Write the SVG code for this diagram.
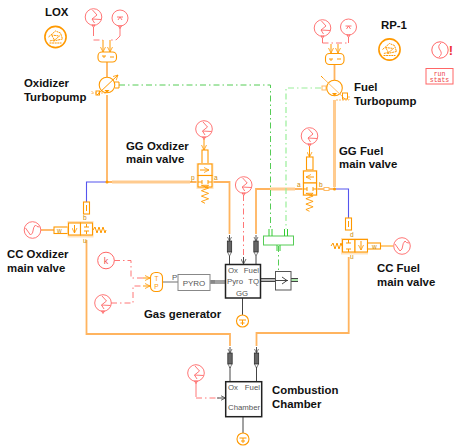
<svg xmlns="http://www.w3.org/2000/svg" width="455" height="448" viewBox="0 0 455 448">
<style>
text{font-family:"Liberation Sans",Arial,sans-serif}
.t{font-size:11.400px;font-weight:bold;fill:#111}
.s{font-size:7.800px;fill:#555}
.o{fill:none;stroke:#f90;stroke-width:1}
.ow{fill:#fff;stroke:#f90;stroke-width:1.100}
.th{fill:none;stroke:#ffcb8f;stroke-width:3}
.tm{fill:none;stroke:#ffb45f;stroke-width:1.800}
.r{fill:none;stroke:#f66;stroke-width:.9}
.rd{fill:none;stroke:#f66;stroke-width:.9;stroke-dasharray:6 3 1.500 3}
.g{fill:none;stroke:#5c5;stroke-width:1;stroke-dasharray:6 3 1.500 3}
.gl{fill:none;stroke:#9e9;stroke-width:1.200;stroke-dasharray:6 3 1.500 3}
.b{fill:none;stroke:#55e;stroke-width:1.100}
.k{fill:none;stroke:#444;stroke-width:1}
.gr{fill:none;stroke:#999;stroke-width:1.400}
.lab{font-size:6.500px;fill:#c80}
</style>
<defs>
<marker id="ao" markerWidth="6" markerHeight="6" refX="5" refY="3" orient="auto"><path d="M0 0.500L5 3L0 5.500" fill="none" stroke="#f90" stroke-width="0.800"/></marker>
<marker id="ak" markerWidth="6" markerHeight="6" refX="5" refY="3" orient="auto"><path d="M0 0.500L5 3L0 5.500" fill="none" stroke="#444" stroke-width="0.800"/></marker>
<g id="sig"><circle r="8.300" fill="#fff" stroke="#f66" stroke-width=".9"/><path d="M-1 -7L3.500 -2L-1.500 2L7.500 2.500M-1.500 2L1 6" class="r" stroke-width="0.800"/><path d="M-1.500 8L1.500 8L0 10.500Z" class="r"/></g>
<g id="sig2"><circle r="8" fill="#fff" stroke="#f66" stroke-width=".9"/><path d="M-3 -1H3M-2 2L0 -1L2 2" class="r" stroke-width="0.700"/><path d="M-1.500 8L1.500 8L0 10.500Z" class="r"/></g>
<g id="sin"><circle r="8.300" fill="#fff" stroke="#f66" stroke-width=".9"/><path d="M-7 -2L-2 5L0 3Q1 -4 3 -5Q4 -3 7 -3" class="r"/></g>
<g id="inj"><path d="M0 0V6" stroke="#555" stroke-width="1"/><rect x="-2.200" y="6" width="4.400" height="11" fill="#666" stroke="#222" stroke-width="0.700"/><path d="M-2 17L0 21L2 17M-2 2L0 6L2 2" fill="none" stroke="#444" stroke-width="0.700"/></g>
<g id="tank"><circle r="10.600" fill="#fff" stroke="#f90" stroke-width="1.600"/><path d="M-7 0L0 -6L5 -4L7 2L-2 4L4 -1L-4 -2L-1 3L-6 4M-6 6H6" fill="none" stroke="#f90" stroke-width="1" stroke-dasharray="2 0.600"/></g>
<g id="port"><circle r="6" fill="#fff" stroke="#f90" stroke-width="1.100"/><path d="M-3.500 -1H3.500M0 -1V4M-2 2H2" class="o" stroke-width="0.700"/></g>
<g id="sp"><path d="M0 0l4 -3l-8 -0l8 3l-8 3l8 3l-8 3l8 3l-8 3l4 2" class="o" transform="scale(.9)"/></g>
</defs>

<g id="connectors">
<path class="tm" d="M107 95V182"/>
<path class="th" d="M112 182H190"/>
<path class="tm" d="M107 182H112M190 182H198"/>
<path class="tm" d="M107 62V77" stroke-width="1.200"/>
<path class="b" d="M107 182H86.500V202"/>
<path class="tm" d="M212 182H229.500V234"/>
<path class="th" d="M295 189H270"/>
<path class="tm" d="M295 189H304M270 189H256V234"/>
<path class="th" d="M334.500 100V187"/>
<path class="tm" d="M334.500 65V80" stroke-width="1.200"/>
<path class="tm" d="M316 189H335" stroke-width="1.200"/>
<path class="b" d="M335 189H348.500V218"/>
<path class="tm" d="M86.500 240V334H230V346"/>
<path class="tm" d="M348.700 257V333H256.500V346"/>
<path class="g" d="M119 85H270.500V229"/>
<path class="gl" d="M321 88H286V229"/>
<path class="g" d="M278.500 246V272"/>
<path class="r" d="M93.500 27V36M120 28V36"/>
<path class="rd" d="M93.500 40H103M120 36L116 40H110"/>
<path class="o" d="M103 40V52" marker-end="url(#ao)"/>
<path class="o" d="M110 40V52" marker-end="url(#ao)"/>
<path class="r" d="M322.500 38V43M348.500 37V43"/>
<path class="rd" d="M322.500 43H348.500"/>
<path class="o" d="M331 44V53" marker-end="url(#ao)"/>
<path class="o" d="M338 44V53" marker-end="url(#ao)"/>
<path class="o" d="M204 139V150" marker-end="url(#ao)"/>
<path class="o" d="M309.500 146V157" marker-end="url(#ao)"/>
<path class="rd" d="M243.500 195V258"/>
<path class="k" d="M243.500 257V264" marker-end="url(#ak)"/>
<path class="tm" d="M41 230H54" stroke-width="1"/>
<path class="o" d="M381 246H393"/>
<path class="rd" d="M114 260.500H131V278H144"/>
<path class="o" d="M143 278H150" marker-end="url(#ao)"/>
<path class="o" d="M143 286H150" marker-end="url(#ao)"/>
<path class="rd" d="M111 303H133V286H143"/>
<path class="r" d="M196 383V397"/>
<path class="rd" d="M196 398H219"/>
<path class="k" d="M217 398H225.500" marker-end="url(#ak)"/>
<path class="k" d="M229.500 256V264M256 256V264" stroke="#888"/>
<path class="k" d="M230 367V382M256.500 367V382"/>
<path class="gr" d="M162 282H178"/>
<path class="k" d="M210 281H225M210 283H225"/>
<path class="k" d="M261 278.500H275M261 281.500H275M291 278.500H298M291 281.500H298" stroke-width="1.200"/>
<path class="gr" d="M261 280H275"/>
<path class="gr" d="M291 280H298" style="stroke:#8d8"/>
<path class="k" d="M242.500 298V315M243 417V433" stroke="#666"/>
</g>

<g id="lox"><text class="t" x="45" y="16">LOX</text><use href="#tank" x="55.500" y="37"/></g>
<g id="lox-sig1"><use href="#sig" x="93.500" y="17"/></g>
<g id="lox-sig2"><use href="#sig2" x="120" y="18"/></g>
<g id="ox-mux"><rect x="98" y="52" width="18.500" height="10" rx="4" class="ow"/><path d="M102 56H106M104 56V58M110 57H114" class="o" stroke-width="0.700"/></g>
<g id="ox-pump">
<path d="M92 93H107" stroke="#fb6" stroke-width="1" stroke-dasharray="2 1" fill="none"/><path d="M92 94V90" stroke="#fb6" stroke-dasharray="1 1" fill="none"/>
<rect x="96" y="91" width="3.500" height="4" class="o"/>
<circle cx="107" cy="85" r="7.800" class="ow"/>
<path d="M97 95L118 75" class="o" stroke-width="0.800" marker-end="url(#ao)"/>
<path d="M104.500 90H109.500L107 93Z" fill="#f90"/>
<path d="M115 82H119V88H115" class="o"/>
<text class="t" x="24" y="87">Oxidizer</text><text class="t" x="24" y="101">Turbopump</text>
</g>
<g id="rp1"><text class="t" x="381" y="29">RP-1</text><use href="#tank" x="389.500" y="49.500"/></g>
<g id="fuel-sig1"><use href="#sig" x="322.500" y="28"/></g>
<g id="fuel-sig2"><use href="#sig2" x="348.500" y="27"/></g>
<g id="fuel-mux"><rect x="325.500" y="53.500" width="18.500" height="11" rx="4" class="ow"/><path d="M329 59H333M331 59V61M337 59H341" class="o" stroke-width="0.700"/></g>
<g id="fuel-pump">
<rect x="322" y="86" width="4" height="4" class="o" style="stroke:#fb6"/>
<circle cx="334.500" cy="88" r="7.800" class="ow"/>
<path d="M323 78L345 99" class="o" stroke-width="0.800" style="stroke:#fb6"/>
<path d="M323 78L321 76" class="o"/>
<path d="M332 93H337L334.500 96Z" fill="#f90"/>
<path d="M336 100H349V96" fill="none" stroke="#fb6" stroke-dasharray="2 1"/><rect x="342.500" y="93" width="5" height="6" class="o"/>
<text class="t" x="354" y="91">Fuel</text><text class="t" x="354" y="105">Turbopump</text>
</g>
<g id="run-stats">
<circle cx="440" cy="50" r="8.200" fill="#fff" stroke="#f66"/><path d="M441 43Q437 46 440 50Q443 54 439 57" class="r"/>
<text x="451" y="55" font-size="13" font-weight="bold" fill="#e33" text-anchor="middle">!</text>
<rect x="426" y="68.500" width="27" height="15.500" fill="#fff" stroke="#f66"/>
<text x="439.500" y="75.500" font-size="6.500" fill="#e44" text-anchor="middle" style="font-family:'Liberation Mono',monospace">run</text>
<text x="439.500" y="82" font-size="6.500" fill="#e44" text-anchor="middle" style="font-family:'Liberation Mono',monospace">stats</text>
</g>

<g id="gg-ox-valve">
<use href="#sig" x="204" y="129"/>
<text class="t" x="126" y="150">GG Oxdizer</text><text class="t" x="126" y="163">main valve</text>
<rect x="202" y="150" width="6" height="14" class="ow"/><rect x="196.500" y="163" width="17" height="26" fill="#ffe3bf"/>
<rect x="198" y="164" width="14" height="11.500" class="ow"/><rect x="198" y="175.500" width="14" height="11.500" class="ow"/>
<path d="M200 170H209" class="o" marker-end="url(#ao)"/><path d="M198 182H202M202 180V184M212 182H208M208 180V184" class="o"/>
<use href="#sp" x="205" y="188"/>
<text class="lab" x="191" y="180">p</text><text class="lab" x="214" y="180">a</text>
</g>
<g id="cc-ox-valve">
<use href="#sin" x="32.500" y="230"/>
<rect x="83.500" y="202" width="6" height="12" class="ow"/><path d="M86.500 205V211" class="o"/>
<text class="lab" x="83" y="220">b</text>
<rect x="54" y="227" width="14" height="6.500" class="ow"/><text class="lab" x="57" y="233">w</text>
<rect x="67.500" y="221" width="26" height="16.500" fill="#ffe3bf"/>
<rect x="68.500" y="223" width="12" height="12" class="ow"/><rect x="80.500" y="223" width="12" height="12" class="ow"/>
<path d="M74.500 225V233" class="o" marker-end="url(#ao)"/><path d="M86.500 224V227M84 227H89M86.500 234V231M84 231H89" class="o"/>
<path d="M93 230l2 -3l2 6l2 -6l2 6l2 -6l2 6l1 -3" class="o"/>
<text class="lab" x="83" y="243">u</text>
<text class="t" x="7" y="258">CC Oxdizer</text><text class="t" x="7" y="272">main valve</text>
</g>
<g id="gg-fuel-valve">
<use href="#sig" x="309.500" y="136"/>
<rect x="306.500" y="157" width="6.500" height="13" class="ow"/>
<rect x="302.500" y="170" width="15" height="26" fill="#ffe3bf"/>
<rect x="303.500" y="171" width="13" height="12" class="ow"/><rect x="303.500" y="183" width="13" height="12" class="ow"/>
<path d="M314 177H306" class="o" marker-end="url(#ao)"/><path d="M304 189H307M307 187V191M316 189H313M313 187V191" class="o"/>
<use href="#sp" x="309.500" y="196"/>
<text class="lab" x="297" y="187">a</text><text class="lab" x="319" y="187">b</text>
<rect x="324" y="187.500" width="5" height="3" fill="#fff" stroke="#fb6"/>
<circle cx="334.500" cy="189" r="1.500" fill="#f90"/>
<text class="t" x="339" y="155">GG Fuel</text><text class="t" x="339" y="168">main valve</text>
</g>
<circle id="ox-junction" cx="107" cy="182" r="1.500" fill="#f90"/>
<g id="cc-fuel-valve">
<rect x="345.500" y="218" width="6" height="12" class="ow"/><path d="M348.500 221V227" class="o"/>
<text class="lab" x="350" y="237">d</text>
<rect x="341" y="238" width="27" height="16.500" fill="#ffe3bf"/>
<rect x="342.500" y="239.500" width="12.500" height="12.500" class="ow"/><rect x="355" y="239.500" width="12.500" height="12.500" class="ow"/>
<path d="M361 241V250" class="o" marker-end="url(#ao)"/><path d="M348.500 240V243M346 243H351M348.500 252V249M346 249H351" class="o"/>
<path d="M331 246l2 -3l2 6l2 -6l2 6l2 -6l1 3" class="o"/>
<rect x="367.500" y="243" width="13" height="6" class="ow"/><text class="lab" x="372" y="249">w</text>
<use href="#sin" x="402" y="246"/>
<text class="lab" x="350" y="259">u</text>
<text class="t" x="377" y="272">CC Fuel</text><text class="t" x="377" y="286">main valve</text>
</g>
<g id="gg-sig"><use href="#sig" x="243.700" y="185"/></g>
<g id="inj1"><use href="#inj" x="229.500" y="235"/></g>
<g id="inj2"><use href="#inj" x="256" y="235"/></g>
<g id="inj3"><use href="#inj" x="230" y="347"/></g>
<g id="inj4"><use href="#inj" x="256.500" y="347"/></g>
<g id="gearbox">
<rect x="263.500" y="236" width="30" height="9" fill="#fff" stroke="#5c5"/>
<path d="M269 229V236M272 229V236M284.500 229V236M287.500 229V236M277 245V251M280 245V251" fill="none" stroke="#3c3" stroke-width="1"/>
</g>
<g id="shaft">
<rect x="275.500" y="271.500" width="15.500" height="18.500" fill="#fff" stroke="#555"/>
<path d="M275.500 280.500H288M282 277L287 280.500L282 284" fill="none" stroke="#333" stroke-width="0.900"/>
</g>
<g id="gg">
<rect x="225.500" y="264.500" width="35" height="33.500" fill="#fff" stroke="#222" stroke-width="1.500"/>
<text class="s" x="228" y="273">Ox</text><text class="s" x="259" y="273" text-anchor="end">Fuel</text>
<text class="s" x="227" y="284">Pyro</text><text class="s" x="259" y="284" text-anchor="end">TQ</text>
<text class="s" x="242" y="296" text-anchor="middle">GG</text>
</g>
<g id="gg-out"><use href="#port" x="242.500" y="321"/></g>
<g id="k"><circle cx="106" cy="260.500" r="8.300" fill="#fff" stroke="#f66"/><text x="106" y="264" font-size="9" fill="#e55" text-anchor="middle">k</text></g>
<g id="pyro-sig"><use href="#sig" x="103" y="303"/></g>
<g id="tp-mux"><rect x="150.500" y="272.500" width="12" height="19" rx="5" class="ow"/><text x="156.500" y="281" font-size="6.500" fill="#f90" text-anchor="middle">T</text><text x="156.500" y="288.500" font-size="6.500" fill="#f90" text-anchor="middle">P</text></g>
<g id="pyro"><rect x="178" y="274.500" width="32" height="16" fill="#fff" stroke="#888"/><text x="194" y="285.500" font-size="8" fill="#555" text-anchor="middle">PYRO</text><text class="s" x="172" y="280">P</text><rect x="211" y="280" width="4" height="3.500" fill="#888"/></g>
<text id="gas-generator" class="t" x="144" y="318">Gas generator</text>
<g id="chamber">
<rect x="225.700" y="381.700" width="36" height="35" fill="#fff" stroke="#222" stroke-width="1.500"/>
<text class="s" x="228" y="390">Ox</text><text class="s" x="260" y="390" text-anchor="end">Fuel</text>
<text class="s" x="228" y="410">Chamber</text>
<text class="t" x="272" y="394">Combustion</text><text class="t" x="272" y="408">Chamber</text>
</g>
<g id="cc-sig"><use href="#sig" x="196" y="373"/></g>
<g id="cc-out"><use href="#port" x="243" y="439"/></g>
</svg>
